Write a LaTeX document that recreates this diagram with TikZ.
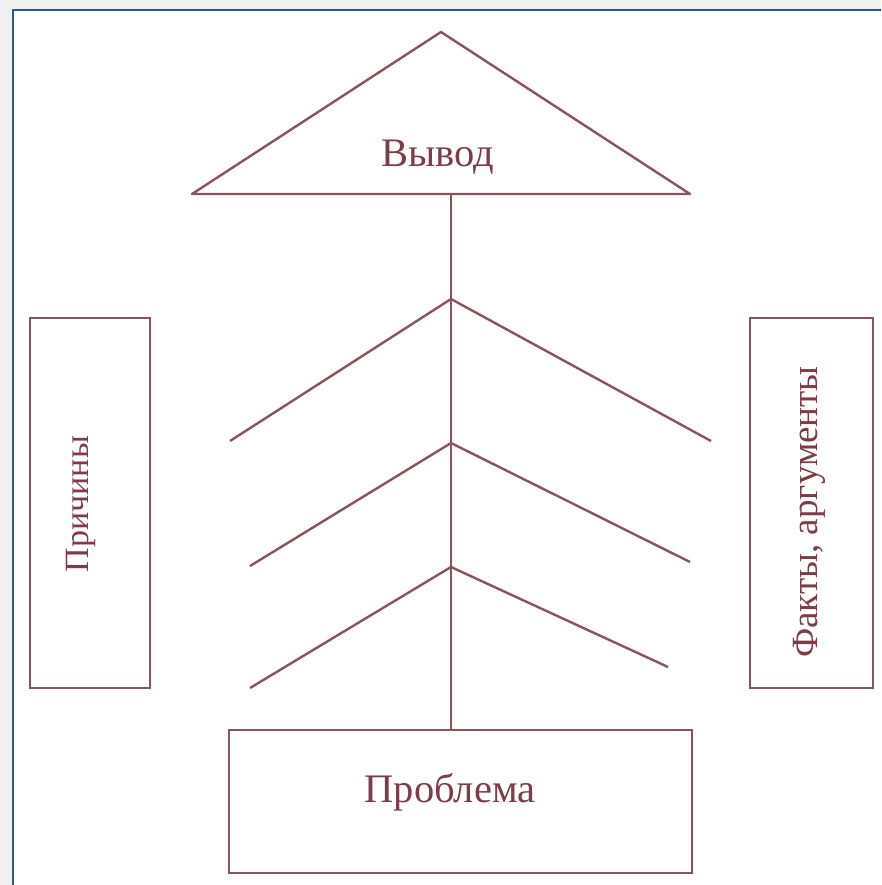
\documentclass[tikz,border=0pt]{standalone}
\usepackage{fontspec}
\setmainfont{Liberation Serif}
\definecolor{linec}{RGB}{135,85,92}
\definecolor{textc}{RGB}{125,60,72}
\definecolor{framec}{RGB}{47,85,151}
\definecolor{outerbg}{RGB}{240,240,240}
\begin{document}
\begin{tikzpicture}[x=1pt,y=-1pt,
  ln/.style={draw=linec,line width=2.4pt},
  boxnode/.style={draw=linec,line width=2.4pt,fill=white,inner sep=0pt},
  lbl/.style={text=textc,inner sep=0pt,font=\fontsize{40.5}{42}\selectfont},
  rlbl/.style={text=textc,inner sep=0pt,rotate=90,anchor=base}]
\useasboundingbox (0,0) rectangle (881,885);
\fill[outerbg] (0,0) rectangle (881,885);
\fill[white] (13,10) rectangle (881,885);
\draw[framec,line width=2pt] (13,885) -- (13,10) -- (881,10);
% triangle (conclusion)
\coordinate (apex) at (441,32);
\coordinate (bl) at (192,194);
\coordinate (br) at (690,194);
\draw[ln,line join=round] (apex) -- (br) -- (bl) -- cycle;
\node[lbl,anchor=base] (vyvod) at (438,167) {Вывод};
% boxes
\node[boxnode,minimum width=463pt,minimum height=143pt] (prob) at (460.5,801.5) {};
\node[lbl,anchor=base] (probt) at (450,802) {Проблема};
\node[boxnode,minimum width=120pt,minimum height=370pt] (cause) at (90,503) {};
\node[rlbl,font=\fontsize{34}{36}\selectfont] (causet) at (88,504) {Причины};
\node[boxnode,minimum width=123pt,minimum height=370pt] (facts) at (811.5,503) {};
\node[rlbl,font=\fontsize{37}{39}\selectfont] (factst) at (817,512) {Факты, аргументы};
% spine
\coordinate (sp) at (451,194);
\draw[ln] (sp) -- (sp |- prob.north);
% chevrons
\coordinate (a1) at (451,299); \coordinate (l1) at (230,441); \coordinate (r1) at (711,441);
\coordinate (a2) at (451,443); \coordinate (l2) at (250,566); \coordinate (r2) at (690,562);
\coordinate (a3) at (451,567); \coordinate (l3) at (250,688); \coordinate (r3) at (668,667);
\draw[ln] (l1) -- (a1) -- (r1);
\draw[ln] (l2) -- (a2) -- (r2);
\draw[ln] (l3) -- (a3) -- (r3);
\end{tikzpicture}
\end{document}
